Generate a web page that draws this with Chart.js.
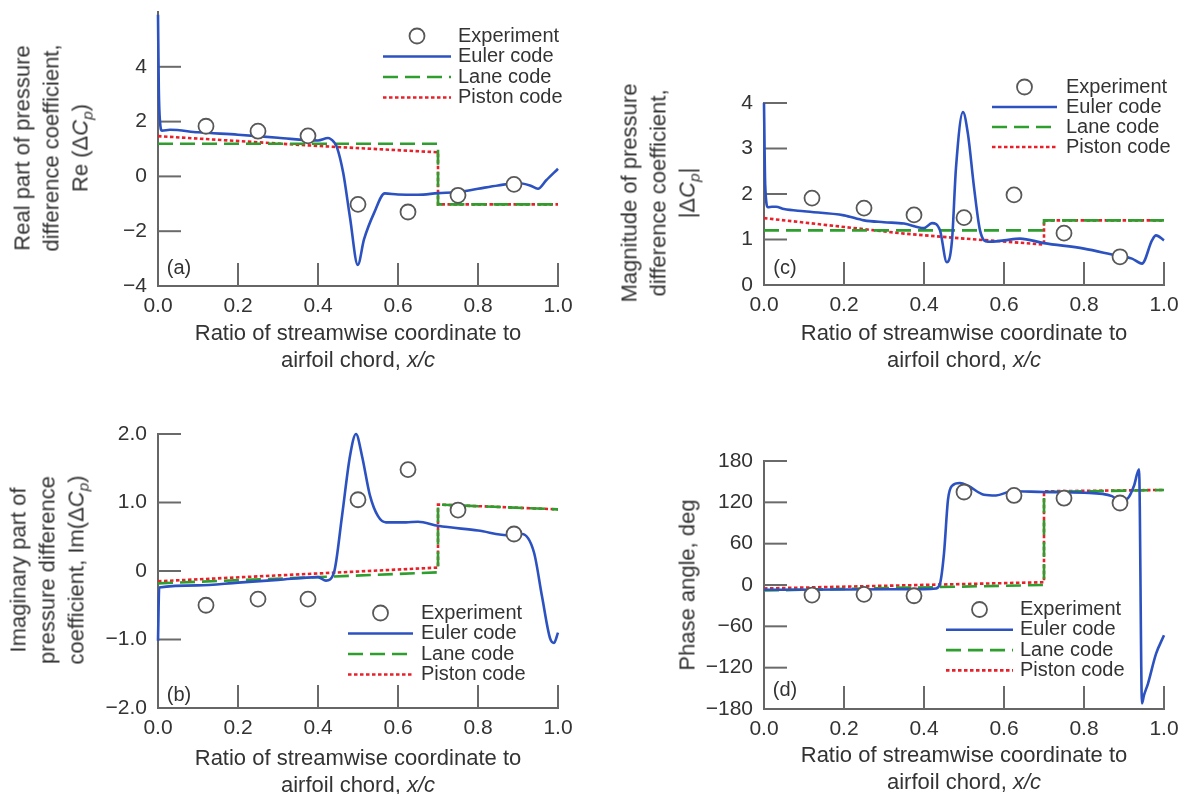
<!DOCTYPE html>
<html>
<head>
<meta charset="utf-8">
<script src="https://cdn.jsdelivr.net/npm/chart.js@4.4.0/dist/chart.umd.min.js"></script>
<style>
  body { margin: 0; background: #fff; font-family: "Liberation Sans", Arial, sans-serif; color: #333; }
  #page { position: relative; width: 1190px; height: 794px; overflow: hidden; }
  canvas { position: absolute; }
  .yt { position: absolute; transform: translate(-50%, -50%) rotate(-90deg); text-align: center;
        white-space: nowrap; font-size: 22px; line-height: 29px; }
  .xt { position: absolute; transform: translateX(-50%); text-align: center;
        white-space: nowrap; font-size: 22px; line-height: 27px; }
  .yt sub, .xt sub { font-size: 70%; vertical-align: -0.3em; line-height: 0; }
</style>
</head>
<body>
<div id="page">
  <canvas id="panelA" width="595" height="397" style="left:0;top:0"></canvas>
  <canvas id="panelC" width="595" height="397" style="left:595px;top:0"></canvas>
  <canvas id="panelB" width="595" height="397" style="left:0;top:397px"></canvas>
  <canvas id="panelD" width="595" height="397" style="left:595px;top:397px"></canvas>

  <div class="yt" style="left:51px;top:148px">Real part of pressure<br>difference coefficient,<br>Re (Δ<i>C<sub>p</sub></i>)</div>
  <div class="yt" style="left:658px;top:193px">Magnitude of pressure<br>difference coefficient,<br>|Δ<i>C<sub>p</sub></i>|</div>
  <div class="yt" style="left:47px;top:570px">Imaginary part of<br>pressure difference<br>coefficient, Im(Δ<i>C<sub>p</sub></i>)</div>
  <div class="yt" style="left:687px;top:585px">Phase angle, deg</div>

  <div class="xt" style="left:358px;top:319px">Ratio of streamwise coordinate to<br>airfoil chord, <i>x/c</i></div>
  <div class="xt" style="left:964px;top:319px">Ratio of streamwise coordinate to<br>airfoil chord, <i>x/c</i></div>
  <div class="xt" style="left:358px;top:744px">Ratio of streamwise coordinate to<br>airfoil chord, <i>x/c</i></div>
  <div class="xt" style="left:964px;top:741px">Ratio of streamwise coordinate to<br>airfoil chord, <i>x/c</i></div>
</div>

<script>
// ---- data ----
const xTicks = [0, 0.2, 0.4, 0.6, 0.8, 1.0];
const seriesNames = ['Experiment', 'Euler code', 'Lane code', 'Piston code'];
const expX = [0.12, 0.25, 0.375, 0.50, 0.625, 0.75, 0.89];

// (a) real part
const reTicks = [-4, -2, 0, 2, 4];
const reExp = [1.83, 1.65, 1.48, -1.02, -1.30, -0.69, -0.29];
const reEulerX = [0, 0.002, 0.005, 0.01, 0.03, 0.1, 0.2, 0.3, 0.4, 0.425, 0.44, 0.447, 0.463, 0.48, 0.4995, 0.515, 0.54, 0.567, 0.6, 0.65, 0.7, 0.75, 0.8, 0.85, 0.9, 0.93, 0.95, 0.97, 1.0];
const reEuler = [5.9, 3.2, 2.0, 1.67, 1.70, 1.61, 1.52, 1.41, 1.31, 1.40, 1.25, 1.08, 0.13, -1.5, -3.23, -2.3, -1.34, -0.62, -0.66, -0.67, -0.61, -0.57, -0.45, -0.33, -0.24, -0.33, -0.45, -0.15, 0.28];
const reLaneX = [0, 0.7, 0.7, 1.0];
const reLane = [1.19, 1.19, -1.02, -1.02];
const rePistonX = [0, 0.4, 0.7, 0.7, 1.0];
const rePiston = [1.47, 1.11, 0.88, -1.02, -1.02];

// (b) imaginary part
const imTicks = [-2, -1, 0, 1, 2];
const imExp = [-0.50, -0.41, -0.41, 1.04, 1.48, 0.89, 0.54];
const imEulerX = [0, 0.003, 0.1, 0.2, 0.3, 0.4, 0.42, 0.44, 0.46, 0.48, 0.495, 0.51, 0.53, 0.55, 0.57, 0.62, 0.65, 0.7, 0.8, 0.88, 0.91, 0.94, 0.96, 0.98, 0.99, 1.0];
const imEuler = [-1.02, -0.24, -0.21, -0.17, -0.13, -0.09, -0.14, -0.02, 0.8, 1.68, 2.0, 1.68, 1.1, 0.8, 0.71, 0.71, 0.72, 0.66, 0.59, 0.52, 0.54, 0.27, -0.37, -0.98, -1.05, -0.9];
const imLaneX = [0, 0.7, 0.7, 1.0];
const imLane = [-0.18, -0.02, 0.97, 0.90];
const imPistonX = [0, 0.7, 0.7, 1.0];
const imPiston = [-0.15, 0.05, 0.97, 0.90];

// (c) magnitude
const magTicks = [0, 1, 2, 3, 4];
const magExp = [1.91, 1.69, 1.54, 1.48, 1.98, 1.14, 0.62];
const magEulerX = [0, 0.003, 0.01, 0.02, 0.03, 0.05, 0.1, 0.2, 0.25, 0.3, 0.35, 0.4, 0.42, 0.44, 0.457, 0.47, 0.48, 0.4975, 0.51, 0.525, 0.54, 0.56, 0.6, 0.64, 0.7, 0.8, 0.88, 0.92, 0.945, 0.97, 0.98, 1.0];
const magEuler = [4.0, 2.2, 1.71, 1.72, 1.72, 1.67, 1.62, 1.53, 1.42, 1.38, 1.35, 1.25, 1.36, 1.2, 0.5, 0.98, 2.58, 3.8, 3.31, 2.15, 1.2, 0.95, 0.98, 1.02, 0.92, 0.8, 0.65, 0.58, 0.47, 0.98, 1.09, 0.98];
const magLaneX = [0, 0.7, 0.7, 1.0];
const magLane = [1.2, 1.2, 1.42, 1.42];
const magPistonX = [0, 0.35, 0.5, 0.7, 0.7, 1.0];
const magPiston = [1.47, 1.13, 1.02, 0.89, 1.42, 1.42];

// (d) phase angle
const phTicks = [-180, -120, -60, 0, 60, 120, 180];
const phExp = [-14.6, -13.6, -15.6, 135, 130, 126, 119];
const phEulerX = [0, 0.2, 0.4, 0.43, 0.44, 0.45, 0.46, 0.47, 0.49, 0.51, 0.55, 0.58, 0.62, 0.7, 0.8, 0.87, 0.89, 0.91, 0.925, 0.9376, 0.945, 0.95, 0.96, 0.98, 1.0];
const phEuler = [-7, -6.5, -6, -5, 2, 46, 124, 144, 148, 144, 131, 130, 136, 135, 134, 129, 122, 126, 144, 168, -172, -160, -143, -100, -73];
const phLaneX = [0, 0.7, 0.7, 1.0];
const phLane = [-8, 0, 135, 138];
const phPistonX = [0, 0.7, 0.7, 1.0];
const phPiston = [-5, 4, 136, 138];

// ---- drawing helpers ----
const FONT = '"Liberation Sans", Arial, sans-serif';
const colors = { exp: '#585858', euler: '#2b52c0', lane: '#2e9e2e', piston: '#e8202a' };

function pts(xs, ys) { return xs.map((x, i) => ({ x: x, y: ys[i] })); }
function fmtY(v, dec) {
  if (v === 0) return '0';
  return v.toFixed(dec).replace('-', '\u2212');
}

// tick marks pointing into the plot, like the original figure
const inwardTicks = {
  id: 'inwardTicks',
  beforeDatasetsDraw(chart) {
    const { ctx, chartArea: a, scales: { x, y } } = chart;
    ctx.save();
    ctx.strokeStyle = '#6a6a6a';
    ctx.lineWidth = 2;
    x.ticks.forEach(t => {
      if (t.value <= x.min) return;
      const px = x.getPixelForValue(t.value);
      ctx.beginPath(); ctx.moveTo(px, a.bottom); ctx.lineTo(px, a.bottom - 23); ctx.stroke();
    });
    y.ticks.forEach(t => {
      if (t.value <= y.min) return;
      const py = y.getPixelForValue(t.value);
      ctx.beginPath(); ctx.moveTo(a.left, py); ctx.lineTo(a.left + 23, py); ctx.stroke();
    });
    ctx.restore();
  }
};

// legend + panel tag drawn inside the plot
const panelLegend = {
  id: 'panelLegend',
  afterDatasetsDraw(chart, args, o) {
    const ctx = chart.ctx;
    const a = chart.chartArea;
    ctx.save();
    ctx.font = '20px ' + FONT;
    ctx.fillStyle = '#333';
    ctx.textBaseline = 'middle';
    ctx.textAlign = 'left';
    chart.data.datasets.forEach((ds, i) => {
      const yy = o.y0 + i * o.dy;
      if (ds.showLine === false) {
        ctx.beginPath();
        ctx.arc((o.x0 + o.x1) / 2, yy, 7.5, 0, Math.PI * 2);
        ctx.fillStyle = '#fff'; ctx.fill();
        ctx.strokeStyle = ds.borderColor; ctx.lineWidth = ds.borderWidth; ctx.stroke();
      } else {
        ctx.beginPath();
        ctx.setLineDash(ds.borderDash || []);
        ctx.strokeStyle = ds.borderColor; ctx.lineWidth = ds.borderWidth;
        ctx.moveTo(o.x0, yy); ctx.lineTo(o.x1, yy); ctx.stroke();
        ctx.setLineDash([]);
      }
      ctx.fillStyle = '#333';
      ctx.fillText(ds.label, o.tx, yy);
    });
    ctx.textAlign = 'center';
    ctx.fillText(o.tag, a.left + o.tagDx, a.bottom - o.tagDy);
    ctx.restore();
  }
};

function makePanel(id, p) {
  const datasets = [
    { label: seriesNames[0], data: pts(expX, p.exp), showLine: false, pointRadius: 7.5,
      pointBorderWidth: 1.8, borderWidth: 1.8, borderColor: colors.exp, pointBackgroundColor: '#fff' },
    { label: seriesNames[1], data: pts(p.eulerX, p.euler), borderColor: colors.euler, borderWidth: 2.6,
      pointRadius: 0, cubicInterpolationMode: 'monotone' },
    { label: seriesNames[2], data: pts(p.laneX, p.lane), borderColor: colors.lane, borderWidth: 2.6,
      borderDash: [15, 7], pointRadius: 0 },
    { label: seriesNames[3], data: pts(p.pistonX, p.piston), borderColor: colors.piston, borderWidth: 2.6,
      borderDash: [3.5, 2.5], pointRadius: 0 }
  ];
  datasets.forEach(d => { d.clip = false; d.fill = false; });

  // the axes take the left / bottom margins so their labels are not clipped
  return new Chart(document.getElementById(id), {
    type: 'line',
    data: { datasets: datasets },
    options: {
      responsive: false,
      animation: false,
      layout: { padding: { left: 0, bottom: 0, right: p.pad.right, top: p.pad.top } },
      plugins: { legend: { display: false }, tooltip: { enabled: false }, panelLegend: p.legend },
      scales: {
        x: {
          type: 'linear', min: 0, max: 1,
          afterBuildTicks: s => { s.ticks = xTicks.map(v => ({ value: v })); },
          afterFit: s => { s.height = p.pad.bottom; s.paddingLeft = 0; s.paddingRight = 0; },
          ticks: { callback: v => v.toFixed(1), font: { size: 21, family: FONT }, color: '#333',
                   padding: 8, maxRotation: 0, autoSkip: false },
          grid: { display: true, drawOnChartArea: false, drawTicks: false },
          border: { display: true, color: '#666', width: 2 }
        },
        y: {
          type: 'linear', min: p.yMin, max: p.yMax,
          afterBuildTicks: s => { s.ticks = p.yTicks.map(v => ({ value: v })); },
          afterFit: s => { s.width = p.pad.left; s.paddingTop = 0; s.paddingBottom = 0; },
          ticks: { callback: v => fmtY(v, p.dec), font: { size: 21, family: FONT }, color: '#333',
                   padding: 11, autoSkip: false },
          grid: { display: true, drawOnChartArea: false, drawTicks: false },
          border: { display: true, color: '#666', width: 2 }
        }
      }
    },
    plugins: [inwardTicks, panelLegend]
  });
}

makePanel('panelA', {
  pad: { left: 158, right: 37, top: 12, bottom: 111 }, yMin: -4, yMax: 6, yTicks: reTicks, dec: 0,
  exp: reExp, eulerX: reEulerX, euler: reEuler, laneX: reLaneX, lane: reLane, pistonX: rePistonX, piston: rePiston,
  legend: { x0: 383, x1: 451, tx: 458, y0: 36, dy: 20.5, tag: '(a)', tagDx: 21, tagDy: 18 }
});
makePanel('panelC', {
  pad: { left: 169, right: 26, top: 103, bottom: 112 }, yMin: 0, yMax: 4, yTicks: magTicks, dec: 0,
  exp: magExp, eulerX: magEulerX, euler: magEuler, laneX: magLaneX, lane: magLane, pistonX: magPistonX, piston: magPiston,
  legend: { x0: 397, x1: 462, tx: 471, y0: 87, dy: 20, tag: '(c)', tagDx: 21, tagDy: 17 }
});
makePanel('panelB', {
  pad: { left: 158, right: 37, top: 37, bottom: 86 }, yMin: -2, yMax: 2, yTicks: imTicks, dec: 1,
  exp: imExp, eulerX: imEulerX, euler: imEuler, laneX: imLaneX, lane: imLane, pistonX: imPistonX, piston: imPiston,
  legend: { x0: 348, x1: 413, tx: 421, y0: 216, dy: 20.5, tag: '(b)', tagDx: 21, tagDy: 13 }
});
makePanel('panelD', {
  pad: { left: 169, right: 26, top: 64, bottom: 85 }, yMin: -180, yMax: 180, yTicks: phTicks, dec: 0,
  exp: phExp, eulerX: phEulerX, euler: phEuler, laneX: phLaneX, lane: phLane, pistonX: phPistonX, piston: phPiston,
  legend: { x0: 351, x1: 418, tx: 425, y0: 212.5, dy: 20.3, tag: '(d)', tagDx: 21, tagDy: 19 }
});
</script>
</body>
</html>
